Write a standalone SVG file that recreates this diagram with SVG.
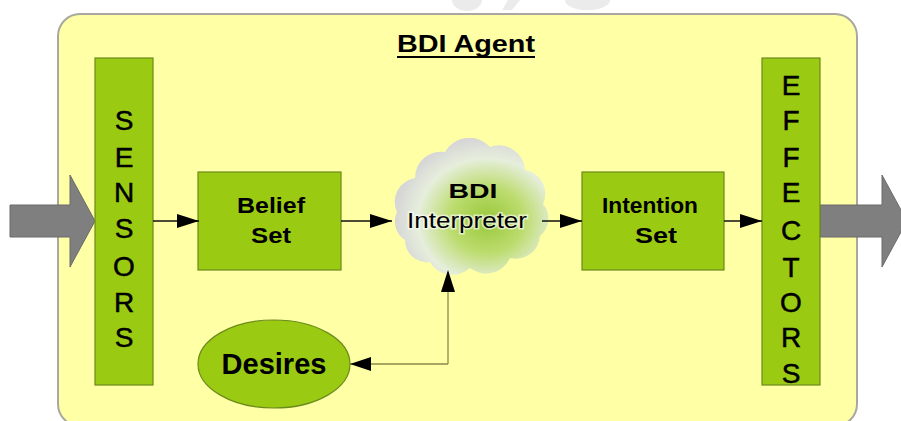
<svg xmlns="http://www.w3.org/2000/svg" width="901" height="421" viewBox="0 0 901 421">
<style>
.box{fill:#9acb12;stroke:#6b8a1a;stroke-width:1.2}
.lbl{font-family:"Liberation Sans",Arial,sans-serif;fill:#000;text-anchor:middle}
.b{font-weight:bold}
.col{font-family:"Liberation Sans",Arial,sans-serif;font-size:28px;fill:#000;stroke:#000;stroke-width:0.5;text-anchor:middle}
.conn{stroke:#111;stroke-width:1.3;fill:none}
.conn2{stroke:#8a8a4a;stroke-width:1.3;fill:none}
.big{fill:#7f7f7f;stroke:#6a6a6a;stroke-width:1}
</style>
<defs>
<marker id="ah" markerWidth="22" markerHeight="14" refX="22" refY="7" orient="auto" markerUnits="userSpaceOnUse">
<path d="M0,0 L22,7 L0,14 Z" fill="#000"/>
</marker>
<radialGradient id="cg" cx="0.6" cy="0.6" r="0.6">
<stop offset="0" stop-color="#98c83a"/>
<stop offset="0.4" stop-color="#bcdc6e"/>
<stop offset="0.75" stop-color="#e6eedc"/>
<stop offset="1" stop-color="#d6d6d6"/>
</radialGradient>
</defs>
<rect width="901" height="421" fill="#fff"/>
<g id="watermark" fill="#ebebeb">
<path d="M452,0 L482,0 A15,11 0 0 1 452,0 Z"/>
<path d="M508,0 L520,0 L512,10 L502,10 Z"/>
<path d="M565,0 L610,0 A22,10 0 0 1 565,0 Z"/>
</g>
<g id="agent">
<rect x="58" y="14" width="799" height="412" rx="22" fill="#ffffa6" stroke="#a8a8a0" stroke-width="2"/>
<text class="lbl b" x="466" y="52" font-size="24" textLength="138" lengthAdjust="spacingAndGlyphs">BDI Agent</text>
<line x1="397" y1="57" x2="535" y2="57" stroke="#000" stroke-width="2"/>
</g>
<g id="input-arrow">
<path class="big" d="M10,205 L70,205 L70,175 L95,221 L70,267 L70,237 L10,237 Z"/>
</g>
<g id="output-arrow">
<path class="big" d="M820,205 L882,205 L882,175 L907,221 L882,267 L882,237 L820,237 Z"/>
</g>
<g id="sensors">
<rect class="box" x="95" y="58" width="58" height="327"/>
<text class="col" x="124" y="130">S</text>
<text class="col" x="124" y="167">E</text>
<text class="col" x="124" y="202">N</text>
<text class="col" x="124" y="238">S</text>
<text class="col" x="124" y="276">O</text>
<text class="col" x="124" y="312">R</text>
<text class="col" x="124" y="347">S</text>
</g>
<g id="effectors">
<rect class="box" x="762" y="58" width="58" height="327"/>
<text class="col" x="791" y="95">E</text>
<text class="col" x="791" y="130">F</text>
<text class="col" x="791" y="167">F</text>
<text class="col" x="791" y="202">E</text>
<text class="col" x="791" y="240">C</text>
<text class="col" x="791" y="277">T</text>
<text class="col" x="791" y="312">O</text>
<text class="col" x="791" y="347">R</text>
<text class="col" x="791" y="383">S</text>
</g>
<g id="belief-set">
<rect class="box" x="198" y="172" width="143" height="98"/>
<text class="lbl b" x="271" y="213" font-size="22" textLength="68" lengthAdjust="spacingAndGlyphs">Belief</text>
<text class="lbl b" x="271" y="243" font-size="22" textLength="40" lengthAdjust="spacingAndGlyphs">Set</text>
</g>
<g id="intention-set">
<rect class="box" x="582" y="172" width="142" height="98"/>
<text class="lbl b" x="650" y="213" font-size="22" textLength="96" lengthAdjust="spacingAndGlyphs">Intention</text>
<text class="lbl b" x="656" y="243" font-size="22" textLength="42" lengthAdjust="spacingAndGlyphs">Set</text>
</g>
<g id="bdi-interpreter">
<path d="M405,240 A22,22 0 0 1 397,212 A24,24 0 0 1 415,178 A26,26 0 0 1 445,152 A28,28 0 0 1 490,147 A26,26 0 0 1 525,170 A24,24 0 0 1 543,204 A22,22 0 0 1 540,236 A24,24 0 0 1 510,258 A26,26 0 0 1 470,268 A26,26 0 0 1 430,262 A22,22 0 0 1 405,240 Z" fill="url(#cg)"/>
<text class="lbl b" x="473" y="198" font-size="21" textLength="49" lengthAdjust="spacingAndGlyphs">BDI</text>
<text class="lbl" x="467" y="228" font-size="22" textLength="120" lengthAdjust="spacingAndGlyphs" stroke="#ffffff" stroke-width="3" stroke-opacity="0.6" paint-order="stroke">Interpreter</text>
</g>
<g id="desires">
<ellipse class="box" cx="274" cy="364" rx="76" ry="44"/>
<text class="lbl b" x="274" y="374" font-size="29" textLength="105" lengthAdjust="spacingAndGlyphs">Desires</text>
</g>
<g id="connectors">
<line class="conn" x1="153" y1="221" x2="199" y2="221" marker-end="url(#ah)"/>
<line class="conn" x1="341" y1="221" x2="392" y2="221" marker-end="url(#ah)"/>
<line class="conn" x1="542" y1="221" x2="582" y2="221" marker-end="url(#ah)"/>
<line class="conn" x1="724" y1="221" x2="762" y2="221" marker-end="url(#ah)"/>
<polyline class="conn2" points="448,364 448,272"/>
<polyline class="conn2" points="448,364 350,364"/>
<path d="M448,270 L441,292 L455,292 Z" fill="#000"/>
<path d="M350,364 L371,357 L371,371 Z" fill="#000"/>
</g>
</svg>
